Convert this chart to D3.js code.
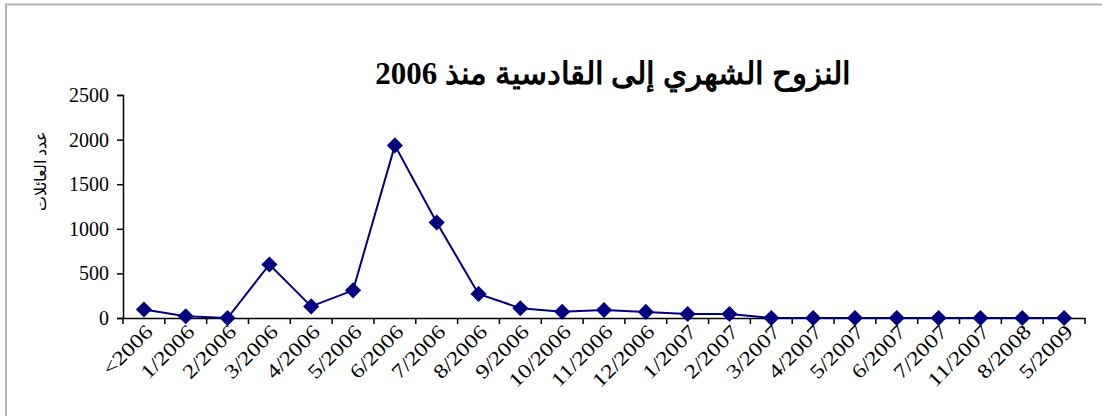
<!DOCTYPE html>
<html>
<head>
<meta charset="utf-8">
<script src="https://cdn.jsdelivr.net/npm/d3@7"></script>
<style>
  body { margin: 0; background: #fff; }
  svg { display: block; }
</style>
</head>
<body>
<div id="container"></div>
<script>
/* CONSTANTS AND GLOBALS */
const width = 1102,
  height = 416,
  margin = { top: 95, bottom: 98, left: 123, right: 17 };

// data
const months = ["<2006", "1/2006", "2/2006", "3/2006", "4/2006", "5/2006", "6/2006",
  "7/2006", "8/2006", "9/2006", "10/2006", "11/2006", "12/2006", "1/2007", "2/2007",
  "3/2007", "4/2007", "5/2007", "6/2007", "7/2007", "11/2007", "8/2008", "5/2009"];
const families = [95, 20, 0, 600, 130, 310, 1935, 1070, 270, 110, 70, 90, 68, 45, 45,
  0, 0, 0, 0, 0, 0, 0, 0];
const yTicks = [0, 500, 1000, 1500, 2000, 2500];
const title = "النزوح الشهري إلى القادسية منذ 2006";
const yLabel = "عدد العائلات";

const serif = "'Liberation Serif', 'Times New Roman', 'DejaVu Serif', serif";

const svg = d3.select("#container")
  .append("svg")
  .attr("width", width)
  .attr("height", height)
  .style("background-color", "#fff");

// frame (only top and left edges are visible)
svg.append("path")
  .attr("d", `M6,${height + 5} V4.5 H${width + 5}`)
  .attr("fill", "none")
  .attr("stroke", "#b4b4b4")
  .attr("stroke-width", 2);

/* SCALES */
const xScale = d3.scaleBand()
  .domain(months)
  .range([margin.left, width - margin.right]);

const yScale = d3.scaleLinear()
  .domain([0, 2500])
  .range([height - margin.bottom, margin.top]);

/* AXES */
const yAxis = d3.axisLeft(yScale).tickValues(yTicks).tickSize(6).tickPadding(8).tickFormat(d3.format("d"));
const gy = svg.append("g")
  .attr("transform", `translate(${margin.left},0)`)
  .call(yAxis);
gy.select(".domain").attr("stroke", "#000").attr("stroke-width", 1.5);
gy.selectAll(".tick line").attr("stroke", "#000").attr("stroke-width", 1.5);
gy.selectAll(".tick text")
  .attr("fill", "#000")
  .style("font-family", serif)
  .style("font-size", "20px");

// x axis: ticks sit on band edges like the spreadsheet chart
const xAxis = d3.axisBottom(xScale).tickSize(0).tickPadding(0);
const gx = svg.append("g")
  .attr("transform", `translate(0,${height - margin.bottom})`)
  .call(xAxis);
gx.select(".domain").attr("stroke", "#000").attr("stroke-width", 1.5);
gx.selectAll(".tick text")
  .attr("transform", "translate(5,10)rotate(-45)scale(1.2,1)")
  .attr("dy", "0.35em")
  .attr("fill", "#000")
  .style("text-anchor", "end")
  .style("font-family", serif)
  .style("font-size", "20px");

const edges = months.map(m => xScale(m)).concat([xScale.range()[1]]);
gx.selectAll("line.edge")
  .data(edges)
  .join("line")
  .attr("class", "edge")
  .attr("x1", d => d).attr("x2", d => d)
  .attr("y1", 0).attr("y2", 6)
  .attr("stroke", "#000")
  .attr("stroke-width", 1.5);

/* LINE AND MARKERS */
const xc = d => xScale(d) + xScale.bandwidth() / 2;
const points = months.map((m, i) => [xc(m), yScale(families[i])]);

svg.append("path")
  .datum(points)
  .attr("d", d3.line())
  .attr("fill", "none")
  .attr("stroke", "#000080")
  .attr("stroke-width", 2);

svg.selectAll("path.marker")
  .data(points)
  .join("path")
  .attr("class", "marker")
  .attr("d", d3.symbol(d3.symbolSquare, 130))
  .attr("transform", d => `translate(${d[0]},${d[1]})rotate(45)`)
  .attr("fill", "#000080");

/* TEXT */
svg.append("text")
  .attr("x", 613)
  .attr("y", 84)
  .attr("direction", "rtl")
  .attr("text-anchor", "middle")
  .style("font-family", serif)
  .style("font-weight", "bold")
  .style("font-size", "31px")
  .text(title);

svg.append("text")
  .attr("transform", "translate(46,171)rotate(-90)")
  .attr("direction", "rtl")
  .attr("text-anchor", "middle")
  .style("font-family", serif)
  .style("font-size", "16px")
  .text(yLabel);
</script>
</body>
</html>
